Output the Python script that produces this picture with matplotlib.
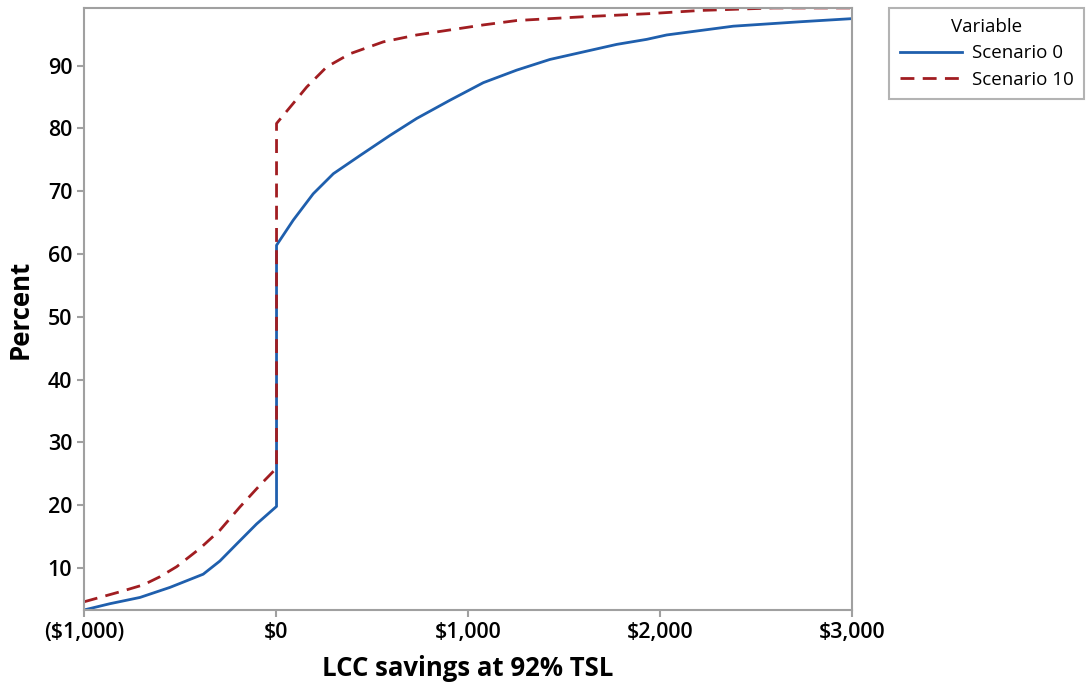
import matplotlib
matplotlib.use("Agg")
import matplotlib.pyplot as plt

# ECDF readings (LCC savings in $, cumulative percent)
s0_x = [-1000, -865, -708, -552, -379, -292, -205, -101, 3, 3, 90, 194, 299, 438,
        594, 733, 906, 1080, 1254, 1427, 1601, 1775, 1931, 2035, 2382, 2729, 3000]
s0_y = [3.3, 4.3, 5.3, 6.9, 9.0, 11.1, 13.8, 17.0, 19.8, 61.4, 65.4, 69.6, 72.8, 75.7,
        78.9, 81.6, 84.5, 87.3, 89.3, 91.0, 92.2, 93.4, 94.2, 94.9, 96.3, 97.0, 97.5]

s10_x = [-1000, -812, -691, -604, -517, -396, -292, -188, -83, 3, 3, 90, 160, 264,
         385, 559, 733, 906, 1080, 1254, 1601, 1948, 2208, 2590, 3000]
s10_y = [4.6, 6.2, 7.3, 8.6, 10.2, 13.1, 16.0, 19.7, 23.2, 25.9, 80.8, 84.0, 86.6, 89.8,
         91.9, 93.8, 94.9, 95.7, 96.5, 97.2, 97.8, 98.3, 98.8, 99.2, 99.2]

x_ticks = [-1000, 0, 1000, 2000, 3000]
x_ticklabels = ["(\\$1,000)", "\\$0", "\\$1,000", "\\$2,000", "\\$3,000"]
y_ticks = [10, 20, 30, 40, 50, 60, 70, 80, 90]

plt.rcParams["font.family"] = ["Open Sans", "DejaVu Sans"]

fig = plt.figure(figsize=(10.86, 6.87), dpi=100)
ax = fig.add_axes([0.0773, 0.1121, 0.7072, 0.8763])

ax.plot(s0_x, s0_y, color="#1F5FAD", linewidth=2, label="Scenario 0")
ax.plot(s10_x, s10_y, color="#A11D21", linewidth=2, linestyle=(0, (5, 3)),
        label="Scenario 10")

ax.set_xlim(-1000, 3000)
ax.set_ylim(3.3, 99.2)
ax.set_xticks(x_ticks)
ax.set_xticklabels(x_ticklabels)
ax.set_yticks(y_ticks)

for sp in ax.spines.values():
    sp.set_color("#a0a0a0")
    sp.set_linewidth(1.5)
ax.tick_params(colors="#a0a0a0", labelcolor="black", labelsize=15.5, width=1.5, length=5)
for lab in ax.get_xticklabels() + ax.get_yticklabels():
    lab.set_fontweight("semibold")

ax.set_xlabel("LCC savings at 92% TSL", fontsize=18.5, fontweight="bold", labelpad=9)
ax.set_ylabel("Percent", fontsize=18.5, fontweight="bold", labelpad=10)

leg = fig.legend(loc="upper left", bbox_to_anchor=(0.819, 0.989), title="Variable",
                 fontsize=13.5, title_fontsize=13.5, frameon=True, fancybox=False,
                 handlelength=3.3, handletextpad=0.55, borderpad=0.55,
                 borderaxespad=0, labelspacing=0.45)
leg.get_frame().set_edgecolor("#a0a0a0")
leg.get_frame().set_linewidth(1.5)

plt.savefig("out.png", dpi=100)
plt.close()
